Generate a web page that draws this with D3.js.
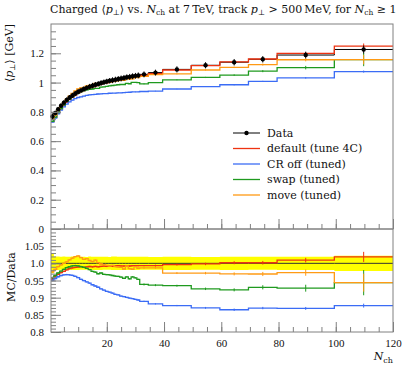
<!DOCTYPE html>
<meta charset="utf-8">

<style>
  body { margin: 0; background: white; }
  text { font-family: "DejaVu Serif", "Liberation Serif", serif; fill: #111; }
  .frame { fill: none; stroke: #808080; stroke-width: 1; }
  .tick line { stroke: #808080; }
  .tick text { font-family: "Liberation Serif", serif; font-size: 11px; }
  .domain { display: none; }
  .legend text { font-size: 11px; }
</style>

<!-- Load d3.js -->
<script src="https://d3js.org/d3.v7.min.js"></script>

<div id="my_dataviz"></div>

<script>

// N_ch bin edges
var binLo = [0.5,1.5,2.5,3.5,4.5,5.5,6.5,7.5,8.5,9.5,10.5,11.5,12.5,13.5,14.5,15.5,16.5,17.5,18.5,19.5,
             20.5,21.5,22.5,23.5,24.5,25.5,26.5,27.5,28.5,29.5,30.5,31.5,34.5,39.5,49.5,59.5,69.5,79.5,99.5];
var binHi = [1.5,2.5,3.5,4.5,5.5,6.5,7.5,8.5,9.5,10.5,11.5,12.5,13.5,14.5,15.5,16.5,17.5,18.5,19.5,20.5,
             21.5,22.5,23.5,24.5,25.5,26.5,27.5,28.5,29.5,30.5,31.5,34.5,39.5,49.5,59.5,69.5,79.5,99.5,120];

// <pT> in GeV
var dataVals = [0.768,0.792,0.818,0.842,0.863,0.882,0.898,0.912,0.925,0.937,
                0.947,0.956,0.964,0.972,0.979,0.985,0.991,0.997,1.002,1.007,
                1.012,1.016,1.020,1.024,1.028,1.032,1.036,1.039,1.043,1.046,
                1.049,1.056,1.068,1.090,1.118,1.139,1.159,1.188,1.226];
var dataErr = [0.022,0.016,0.016,0.016,0.017,0.017,0.017,0.018,0.018,0.018,
               0.018,0.018,0.018,0.019,0.019,0.019,0.019,0.019,0.019,0.019,
               0.019,0.020,0.020,0.020,0.020,0.020,0.020,0.020,0.020,0.020,
               0.020,0.020,0.020,0.021,0.021,0.022,0.022,0.023,0.027];

var defaultVals = [0.733,0.762,0.792,0.819,0.843,0.865,0.884,0.900,0.914,0.927,
                   0.938,0.945,0.954,0.963,0.969,0.976,0.981,0.988,0.994,0.998,
                   1.004,1.007,1.012,1.017,1.020,1.024,1.029,1.031,1.036,1.039,
                   1.042,1.049,1.061,1.086,1.116,1.141,1.161,1.199,1.249];
var crOffVals = [0.730,0.757,0.786,0.812,0.834,0.853,0.868,0.880,0.890,0.898,
                 0.903,0.908,0.912,0.916,0.918,0.920,0.922,0.923,0.924,0.925,
                 0.927,0.928,0.928,0.930,0.930,0.932,0.933,0.934,0.936,0.936,
                 0.937,0.939,0.942,0.956,0.973,0.985,1.008,1.032,1.075];
var swapVals = [0.736,0.764,0.795,0.823,0.848,0.871,0.889,0.905,0.919,0.930,
                0.938,0.945,0.950,0.954,0.956,0.960,0.961,0.969,0.970,0.974,
                0.978,0.980,0.982,0.985,0.987,0.987,0.995,0.992,1.002,1.002,
                1.000,0.991,1.000,1.019,1.035,1.051,1.078,1.102,1.157];
var moveVals = [0.749,0.778,0.810,0.838,0.863,0.886,0.907,0.926,0.943,0.957,
                0.963,0.967,0.977,0.980,0.984,0.994,0.993,0.995,0.998,1.001,
                1.004,1.010,1.010,1.013,1.016,1.015,1.028,1.023,1.025,1.036,
                1.034,1.042,1.054,1.059,1.086,1.104,1.123,1.156,1.157];

// MC statistical errors
var defaultErr = [0.002,0.002,0.002,0.002,0.002,0.002,0.002,0.002,0.002,0.002,
                  0.002,0.002,0.002,0.002,0.002,0.002,0.002,0.002,0.002,0.002,
                  0.002,0.002,0.002,0.002,0.002,0.002,0.002,0.002,0.002,0.002,
                  0.002,0.002,0.003,0.003,0.004,0.005,0.006,0.008,0.018];
var crOffErr = [0.002,0.002,0.002,0.002,0.002,0.002,0.002,0.002,0.002,0.002,
                0.002,0.002,0.002,0.002,0.002,0.002,0.002,0.002,0.002,0.002,
                0.002,0.002,0.002,0.002,0.002,0.002,0.002,0.002,0.002,0.002,
                0.002,0.002,0.002,0.002,0.003,0.004,0.004,0.005,0.007];
var swapErr = [0.002,0.002,0.002,0.002,0.002,0.002,0.002,0.002,0.002,0.002,
               0.002,0.002,0.002,0.002,0.002,0.002,0.002,0.002,0.002,0.002,
               0.002,0.002,0.002,0.002,0.002,0.002,0.002,0.002,0.002,0.002,
               0.002,0.003,0.003,0.003,0.004,0.005,0.007,0.012,0.045];
var moveErr = [0.002,0.002,0.002,0.002,0.002,0.002,0.002,0.002,0.002,0.002,
               0.002,0.002,0.002,0.002,0.002,0.002,0.002,0.002,0.002,0.002,
               0.002,0.002,0.002,0.002,0.002,0.002,0.002,0.002,0.002,0.002,
               0.002,0.003,0.003,0.003,0.004,0.005,0.007,0.011,0.032];

var mcNames = ["default (tune 4C)", "CR off (tuned)", "swap (tuned)", "move (tuned)"];
var mcColors = ["#ee3311", "#3b6cf5", "#1f9a1f", "#ff9a14"];

var mainTickVals = [0, 0.2, 0.4, 0.6, 0.8, 1, 1.2];
var mainTickLabels = ["0", "0.2", "0.4", "0.6", "0.8", "1", "1.2"];
var ratioTickVals = [0.8, 0.85, 0.9, 0.95, 1.0, 1.05];
var ratioTickLabels = ["0.8", "0.85", "0.9", "0.95", "1.0", "1.05"];
var xTickVals = [20, 40, 60, 80, 100, 120];
var xTickLabels = ["20", "40", "60", "80", "100", "120"];

var mcSeries = [
  {name: mcNames[0], color: mcColors[0], vals: defaultVals, err: defaultErr},
  {name: mcNames[1], color: mcColors[1], vals: crOffVals, err: crOffErr},
  {name: mcNames[2], color: mcColors[2], vals: swapVals, err: swapErr},
  {name: mcNames[3], color: mcColors[3], vals: moveVals, err: moveErr}
];

// dimensions
var margin = {top: 24, left: 51},
    width = 342,
    mainH = 205,
    ratioH = 103;

var svg = d3.select("#my_dataviz")
  .append("svg")
    .attr("width", 407)
    .attr("height", 367)
  .append("g")
    .attr("transform", "translate(" + margin.left + "," + margin.top + ")");

var x = d3.scaleLinear().domain([0.5, 120]).range([0, width]);
var y = d3.scaleLinear().domain([0, 1.4]).range([mainH, 0]);
var yr = d3.scaleLinear().domain([0.8, 1.1]).range([mainH + ratioH, mainH]);

function stepPoints(vals) {
  var pts = [];
  vals.forEach(function(v, i) { pts.push([binLo[i], v]); pts.push([binHi[i], v]); });
  return pts;
}
function mid(i) { return (binLo[i] + binHi[i]) / 2; }

var lineMain = d3.line().x(function(d) { return x(d[0]) }).y(function(d) { return y(d[1]) });
var lineRatio = d3.line().x(function(d) { return x(d[0]) }).y(function(d) { return yr(d[1]) });

// ---------- top panel ----------
svg.append("path")
  .attr("d", lineMain(stepPoints(dataVals)))
  .style("fill", "none").style("stroke", "black").style("stroke-width", 1);

mcSeries.forEach(function(s) {
  svg.append("path")
    .attr("d", lineMain(stepPoints(s.vals)))
    .style("fill", "none").style("stroke", s.color).style("stroke-width", 1.3);
  svg.selectAll("null").data(s.vals).enter().append("line")
    .attr("x1", function(d, i) { return x(mid(i)) })
    .attr("x2", function(d, i) { return x(mid(i)) })
    .attr("y1", function(d, i) { return y(d - s.err[i]) })
    .attr("y2", function(d, i) { return y(d + s.err[i]) })
    .style("stroke", s.color).style("stroke-width", 1);
});

// data points
svg.selectAll("dataErr").data(dataVals).enter().append("line")
  .attr("x1", function(d, i) { return x(mid(i)) })
  .attr("x2", function(d, i) { return x(mid(i)) })
  .attr("y1", function(d, i) { return y(d - dataErr[i]) })
  .attr("y2", function(d, i) { return y(d + dataErr[i]) })
  .style("stroke", "black").style("stroke-width", 1);
svg.selectAll("dataDots").data(dataVals).enter().append("circle")
  .attr("cx", function(d, i) { return x(mid(i)) })
  .attr("cy", function(d) { return y(d) })
  .attr("r", 2.2)
  .style("fill", "black");

// ---------- ratio panel ----------
var band = d3.area()
  .x(function(d) { return x(d[0]) })
  .y0(function(d) { return yr(1 - d[1]) })
  .y1(function(d) { return yr(1 + d[1]) });
var relErr = dataErr.map(function(e, i) { return e / dataVals[i]; });
svg.append("path")
  .attr("d", band(stepPoints(relErr)))
  .style("fill", "#ffff00").style("stroke", "none");

svg.append("path")
  .attr("d", lineRatio(stepPoints(dataVals.map(function() { return 1; }))))
  .style("fill", "none").style("stroke", "#333").style("stroke-width", 1);

mcSeries.forEach(function(s) {
  var r = s.vals.map(function(v, i) { return v / dataVals[i]; });
  svg.append("path")
    .attr("d", lineRatio(stepPoints(r)))
    .style("fill", "none").style("stroke", s.color).style("stroke-width", 1.3);
  svg.selectAll("null").data(r).enter().append("line")
    .attr("x1", function(d, i) { return x(mid(i)) })
    .attr("x2", function(d, i) { return x(mid(i)) })
    .attr("y1", function(d, i) { return yr(d - s.err[i] / dataVals[i]) })
    .attr("y2", function(d, i) { return yr(d + s.err[i] / dataVals[i]) })
    .style("stroke", s.color).style("stroke-width", 1);
});

// ---------- axes (ticks inside) ----------
var minorX = d3.range(5, 120, 5);
function addXTicks(yPos, labels) {
  svg.append("g").attr("transform", "translate(0," + yPos + ")")
    .call(d3.axisBottom(x).tickValues(minorX).tickSize(-5).tickFormat(""));
  var g = svg.append("g").attr("transform", "translate(0," + yPos + ")")
    .call(d3.axisBottom(x).tickValues(xTickVals).tickSize(-10).tickPadding(7)
      .tickFormat(function(d, i) { return labels ? xTickLabels[i] : ""; }));
}
addXTicks(mainH, false);
addXTicks(mainH + ratioH, true);

svg.append("g")
  .call(d3.axisLeft(y).tickValues(d3.range(0.05, 1.4, 0.05)).tickSize(-5).tickFormat(""));
svg.append("g")
  .call(d3.axisLeft(y).tickValues(mainTickVals).tickSize(-10).tickPadding(7)
    .tickFormat(function(d, i) { return mainTickLabels[i]; }));

svg.append("g")
  .call(d3.axisLeft(yr).tickValues(d3.range(0.81, 1.095, 0.01)).tickSize(-5).tickFormat(""));
svg.append("g")
  .call(d3.axisLeft(yr).tickValues(ratioTickVals).tickSize(-10).tickPadding(7)
    .tickFormat(function(d, i) { return ratioTickLabels[i]; }));

// frames
svg.append("rect").attr("class", "frame").attr("x", 0).attr("y", 0).attr("width", width).attr("height", mainH);
svg.append("rect").attr("class", "frame").attr("x", 0).attr("y", mainH).attr("width", width).attr("height", ratioH);

// ---------- texts ----------
var title = svg.append("text").attr("x", -1).attr("y", -11).style("font-size", "11px");
title.append("tspan").text("Charged \u27E8");
title.append("tspan").style("font-style", "italic").text("p");
title.append("tspan").attr("dy", 2).style("font-size", "7.5px").text("\u22A5");
title.append("tspan").attr("dy", -2).text("\u27E9 vs. ");
title.append("tspan").style("font-style", "italic").text("N");
title.append("tspan").attr("dy", 2).style("font-size", "7.5px").text("ch");
title.append("tspan").attr("dy", -2).text(" at 7\u2009TeV, track ");
title.append("tspan").style("font-style", "italic").text("p");
title.append("tspan").attr("dy", 2).style("font-size", "7.5px").text("\u22A5");
title.append("tspan").attr("dy", -2).text(" > 500\u2009MeV, for ");
title.append("tspan").style("font-style", "italic").text("N");
title.append("tspan").attr("dy", 2).style("font-size", "7.5px").text("ch");
title.append("tspan").attr("dy", -2).text(" \u2265 1");

var ylab = svg.append("text")
  .attr("transform", "translate(-38.5,0) rotate(-90)")
  .attr("text-anchor", "end")
  .style("font-size", "11px");
ylab.append("tspan").text("\u27E8");
ylab.append("tspan").style("font-style", "italic").text("p");
ylab.append("tspan").attr("dy", 2).style("font-size", "7.5px").text("\u22A5");
ylab.append("tspan").attr("dy", -2).text("\u27E9 [GeV]");

svg.append("text")
  .attr("transform", "translate(-36," + (mainH + 48) + ") rotate(-90)")
  .attr("text-anchor", "middle")
  .style("font-size", "11px")
  .text("MC/Data");

var xlab = svg.append("text")
  .attr("x", width).attr("y", 312 + 24)
  .attr("text-anchor", "end")
  .style("font-size", "11px");
xlab.append("tspan").style("font-style", "italic").text("N");
xlab.append("tspan").attr("dy", 3).style("font-size", "8px").text("ch");

// ---------- legend ----------
var legend = svg.append("g").attr("class", "legend");
var legItems = [{name: "Data", color: "black"}].concat(mcSeries);
legItems.forEach(function(d, i) {
  var ly = 109 + i * 15.5;
  legend.append("line")
    .attr("x1", 182).attr("x2", 209).attr("y1", ly).attr("y2", ly)
    .style("stroke", d.color).style("stroke-width", i == 0 ? 1 : 1.3);
  if (i == 0) {
    legend.append("circle").attr("cx", 195.5).attr("cy", ly).attr("r", 2.2).style("fill", "black");
  }
  legend.append("text")
    .attr("x", 216).attr("y", ly).attr("dy", "0.35em")
    .text(d.name);
});

</script>
